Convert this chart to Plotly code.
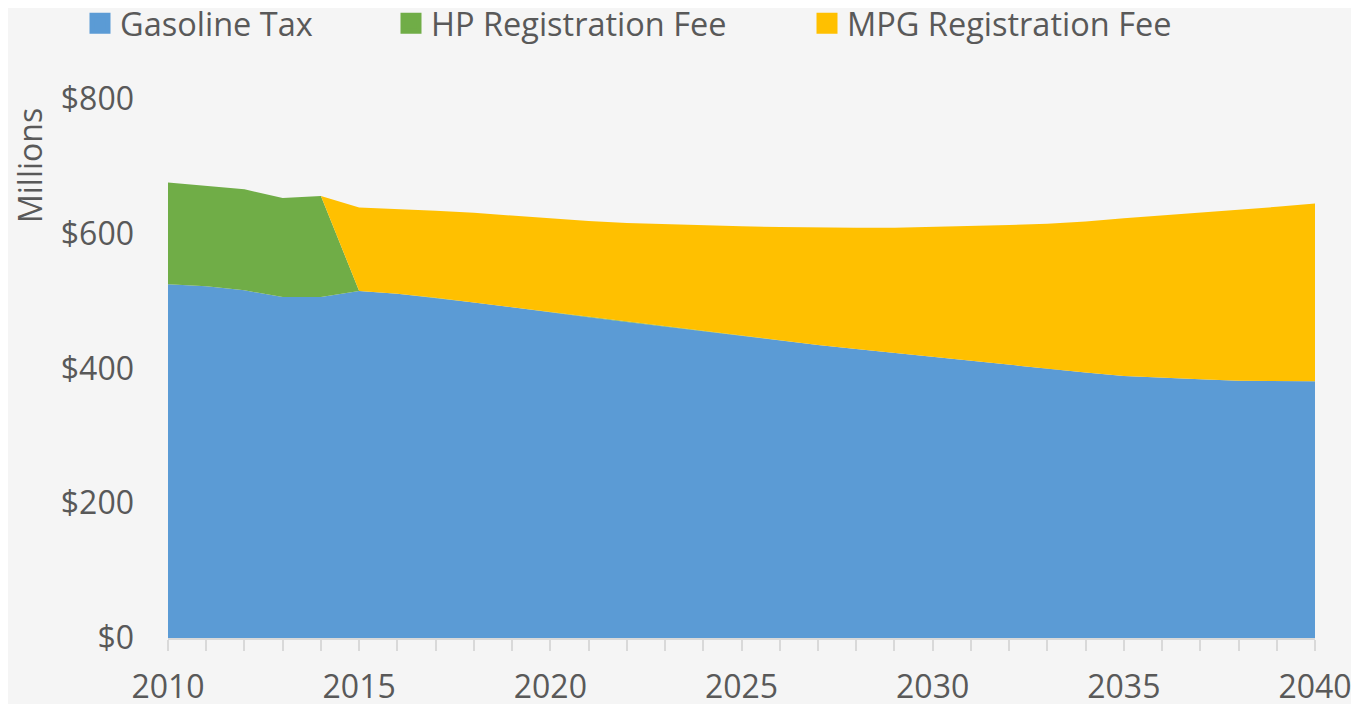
import plotly.graph_objects as go

years = list(range(2010, 2041))

gasoline_tax = [525, 522, 516, 506, 506, 515, 511, 505, 498, 491, 483,
                476, 469, 462, 455, 448, 441, 435, 429, 423, 417,
                411, 405, 399, 394, 389, 386, 384, 382, 381, 381]

hp_fee = [151, 149, 150, 147, 150] + [0] * 26

total_after = [639, 637, 634, 631, 627, 622, 619, 616, 614, 612, 611,
               610, 609, 609, 609, 610, 611, 613, 615, 618, 623,
               627, 631, 635, 640, 645]
mpg_fee = [0] * 5 + [t - g for t, g in zip(total_after, gasoline_tax[5:])]

series = [
    ("Gasoline Tax", gasoline_tax, "#5B9BD5"),
    ("HP Registration Fee", hp_fee, "#70AD47"),
    ("MPG Registration Fee", mpg_fee, "#FFC000"),
]

FONT = "Open Sans"
TXT = "#595959"
OFF = 8  # page body offset of the figure in the browser
W, H = 1359 - OFF, 704 - OFF
ML, MR, MT, MB = 168 - OFF, 44, 99 - OFF, 66
PW, PH = W - ML - MR, H - MT - MB

def px_to_x(px):
    return (px - OFF - ML) / PW

def px_to_y(py):
    return 1 + (MT - (py - OFF)) / PH

fig = go.Figure()
for name, vals, col in series:
    fig.add_trace(go.Scatter(
        x=years, y=vals, name=name, mode="lines",
        stackgroup="one", line=dict(width=0, color=col),
        fillcolor=col, showlegend=False,
    ))

legend_starts = [80, 391, 807]
legend_keys = ["legend", "legend2", "legend3"]
for (name, vals, col), key in zip(series, legend_keys):
    fig.add_trace(go.Scatter(
        x=[None], y=[None], name=name, mode="markers",
        marker=dict(symbol="square", size=16, color=col, line=dict(width=5, color=col)),
        legend=key, showlegend=True,
    ))

legend_common = dict(
    orientation="h", yanchor="middle", xanchor="left",
    font=dict(family=FONT, size=32.5, color=TXT),
    bgcolor="rgba(0,0,0,0)", itemsizing="trace", borderwidth=0,
)
layout_legends = {}
for key, start in zip(legend_keys, legend_starts):
    layout_legends[key] = dict(legend_common, x=px_to_x(start), y=px_to_y(23.5))

fig.update_layout(
    width=W, height=H,
    margin=dict(l=ML, r=MR, t=MT, b=MB, autoexpand=False),
    paper_bgcolor="#f5f5f5",
    plot_bgcolor="rgba(0,0,0,0)",
    font=dict(family=FONT, size=32, color=TXT),
    showlegend=True,
    xaxis=dict(
        range=[2010, 2040], tickmode="linear", tick0=2010, dtick=5,
        showgrid=False, zeroline=False,
        showline=True, linecolor="#d9d9d9", linewidth=2,
        ticks="outside", ticklen=11, tickcolor="#d9d9d9", tickwidth=2,
        minor=dict(dtick=1, ticks="outside", ticklen=11, tickcolor="#d9d9d9", tickwidth=2),
        tickfont=dict(family=FONT, size=32, color=TXT),
        ticklabelstandoff=9,
    ),
    yaxis=dict(
        range=[0, 800], tickmode="linear", tick0=0, dtick=200,
        tickprefix="$", showgrid=True, gridcolor="#d9d9d9", gridwidth=1.5,
        zeroline=False, showline=False, ticks="",
        tickfont=dict(family=FONT, size=32, color=TXT),
        ticklabelstandoff=33,
    ),
    annotations=[dict(
        text="Millions", textangle=-90, showarrow=False,
        xref="paper", yref="paper", x=px_to_x(29.5), y=px_to_y(165.5),
        xanchor="center", yanchor="middle",
        font=dict(family=FONT, size=32, color=TXT),
    )],
    **layout_legends,
)

fig.write_html("out.html")
